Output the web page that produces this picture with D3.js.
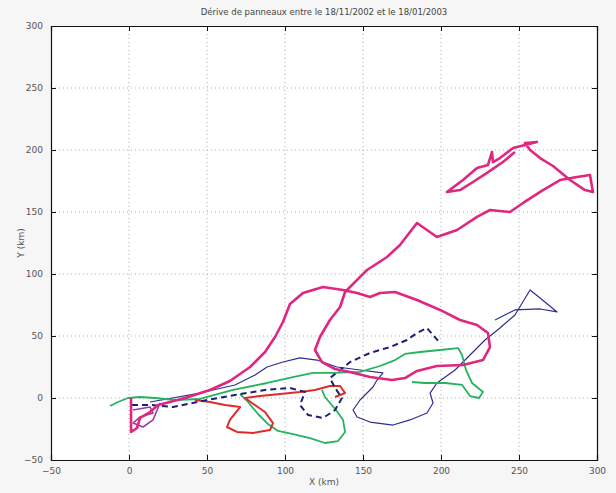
<!DOCTYPE html>
<html>
<head>
<meta charset="utf-8">
<script src="https://cdn.jsdelivr.net/npm/d3@7"></script>
<style>
  body { margin: 0; background: #f6f6f6; }
  text { font-family: "DejaVu Sans", sans-serif; }
</style>
</head>
<body>
<div id="chart"></div>
<script>
// Axis ticks
const xTicks = [-50, 0, 50, 100, 150, 200, 250, 300];
const yTicks = [-50, 0, 50, 100, 150, 200, 250, 300];

// Drift tracks, [x km, y km]
const magentaTrack = [
  [1.3, 0], [1.3, -27.4], [5.1, -24.2], [7.1, -16.1], [13.5, -11.3], [18.6, -5.6],
  [26.3, -3.2], [35.9, 0], [51.9, 6.5], [64.7, 13.7], [77.6, 25], [87.2, 37.1],
  [93.6, 49.2], [98.7, 61.3], [103.2, 75.8], [111.5, 84.7], [124.4, 89.5], [137.2, 87.1],
  [146.2, 84.7], [154.5, 81.5], [160.9, 84.7], [170.5, 85.5], [184.6, 79], [199.4, 71],
  [212.2, 62.9], [223.1, 58.9], [230.1, 52.4], [231.4, 41.1], [226.9, 30.6], [214.1, 26.6],
  [197.4, 25.8], [184.6, 21.8], [176.9, 16.1], [168.6, 14.5], [154.5, 16.9], [141.7, 21],
  [132.1, 23.4], [123.7, 29], [119.2, 38.7], [122.4, 49.2], [128.8, 62.9], [135.3, 73.4],
  [138.5, 85.5], [146.2, 95.2], [152.6, 103.2], [165.4, 113.7], [173.7, 123.4], [184.6, 141.1],
  [197.4, 129.8], [210.3, 135.5], [223.1, 146], [231.4, 151.6], [244.2, 150], [252.6, 157.3],
  [265.4, 167.7], [276.3, 175.8], [287.2, 178.2], [295.5, 179.8], [297.4, 166.1], [292.3, 167.7],
  [282.7, 175.8], [271.8, 187.1], [263.5, 193.5], [257.1, 200], [253.8, 205.6], [261.5, 206.5],
  [246.2, 201.6], [237.8, 193.5], [233.3, 190.3], [232.7, 198.4], [230.1, 187.9], [223.1, 185.5],
  [214.1, 175.8], [203.8, 166.1], [212.2, 167.7], [220.5, 174.2], [229.5, 181.5], [239.7, 190.3],
  [247.4, 198.4]
];

const purpleTrack = [
  [2.6, -9.7], [13.5, -7.3], [15.4, -12.1], [7.1, -15.3], [2.6, -20.2], [9, -23.4],
  [15.4, -17.7], [19.9, -4]
];

const navyDashedTrack = [
  [1.9, -5.6], [13.5, -5.6], [28.2, -7.3], [50, -1.6], [67.9, 2.4], [87.2, 6.5],
  [103.2, 8.1], [112.8, 4.8], [109.6, -5.6], [114.7, -13.7], [124.4, -16.1], [132.1, -9.7],
  [136.5, 0], [132.1, 8.1], [128.8, 16.1], [141.7, 29], [154.5, 36.3], [167.3, 41.1],
  [178.2, 46.8], [184.6, 52.4], [191, 56.5], [194.9, 50.8], [199.4, 44.4]
];

const navyTrack = [
  [13.5, -3.2], [45.5, 4], [67.9, 10.5], [80.8, 18.5], [88.5, 25], [98.7, 29],
  [109.6, 32.3], [120.5, 30.6], [133.3, 25], [148.1, 22.6], [162.8, 20.2], [159, 14.5],
  [156.4, 8.9], [148.1, -1.6], [143.6, -9.7], [146.2, -15.3], [154.5, -19.4], [169.2, -21.8],
  [180.1, -17.7], [191, -12.1], [194.9, -4], [193, 4], [197.4, 12.1], [209, 22.6],
  [218.6, 34.7], [228.2, 46.8], [237.8, 56.5], [247.4, 66.9], [257.1, 87.1], [263.5, 80.6],
  [274.4, 69.4], [263.5, 71.8], [247.4, 71], [234.6, 62.9]
];

const greenTrack = [
  [-12.2, -6.5], [-7.1, -3.2], [-0.6, 0], [7.1, 0.8], [16.7, 0], [29.5, -1.6],
  [45.5, -0.8], [66.7, 6.5], [88.5, 12.1], [105.1, 16.9], [117.9, 20.2], [130.8, 20.2],
  [148.1, 21], [160.9, 25.8], [170.5, 30.6], [176.9, 35.5], [186.5, 37.1], [199.4, 38.7],
  [210.9, 40.3], [213.5, 34.7], [216, 22.6], [219.9, 12.1], [226.9, 4.8], [224.4, 0],
  [218.6, 1.6], [213.5, 10.5], [202.6, 12.1], [189.7, 12.1], [181.4, 12.9]
];

const greenLoop = [
  [123.7, 6.5], [125.6, 0.8], [132.7, -9.7], [137.2, -17.7], [138.5, -27.4], [134, -34.7],
  [125.6, -36.3], [116, -32.3], [104.5, -29], [95.5, -26.6], [89.1, -21], [82.7, -12.9],
  [76.3, -3.2], [71.2, 3.2]
];

const redTrack = [
  [42.3, -1.6], [51.9, -3.2], [61.5, -5.6], [71.2, -7.3], [64.7, -17.7], [62.8, -23.4],
  [69.2, -27.4], [79.5, -28.2], [90.4, -25.8], [92.3, -20.2], [87.2, -11.3], [78.8, -4],
  [74.4, 0], [84, 1.6], [96.8, 3.2], [109.6, 4.8], [119.2, 6.5], [128.8, 9.7],
  [135.3, 9.7], [138.5, 4], [132.1, 0.8]
];

const W = 616, H = 493;
const mLeft = 51, mRight = 597, mTop = 26, mBottom = 460;

const svg = d3.select("#chart")
    .append("svg")
    .attr("width", W)
    .attr("height", H);

svg.append("rect").attr("width", W).attr("height", H).attr("fill", "#f6f6f6");

const x = d3.scaleLinear().domain([-50, 300]).range([mLeft, mRight]);
const y = d3.scaleLinear().domain([-50, 300]).range([mBottom, mTop]);

svg.append("rect")
    .attr("x", mLeft).attr("y", mTop)
    .attr("width", mRight - mLeft).attr("height", mBottom - mTop)
    .attr("fill", "#ffffff");

// dotted grid
const grid = svg.append("g").attr("stroke", "#9a9a9a").attr("stroke-width", 0.8)
    .attr("stroke-dasharray", "1,3");
grid.selectAll(".gx").data(xTicks.slice(1, -1)).join("line")
    .attr("x1", d => x(d)).attr("x2", d => x(d))
    .attr("y1", mTop).attr("y2", mBottom);
grid.selectAll(".gy").data(yTicks.slice(1, -1)).join("line")
    .attr("x1", mLeft).attr("x2", mRight)
    .attr("y1", d => y(d)).attr("y2", d => y(d));

// tracks
const line = d3.line().x(d => x(d[0])).y(d => y(d[1]));
const plot = svg.append("g");

function drawTrack(data, color, width, dash) {
    plot.append("path")
        .datum(data)
        .attr("d", line)
        .attr("fill", "none")
        .attr("stroke", color)
        .attr("stroke-width", width)
        .attr("stroke-linejoin", "round")
        .attr("stroke-dasharray", dash || null);
}

drawTrack(navyTrack, "#2b2f8f", 1.2);
drawTrack(greenLoop, "#25b35f", 1.8);
drawTrack(greenTrack, "#25b35f", 1.8);
drawTrack(redTrack, "#e02a2a", 2);
drawTrack(navyDashedTrack, "#1c1f78", 2, "6,4");
drawTrack(purpleTrack, "#9b3aa3", 1.6);
drawTrack(magentaTrack, "#e0267f", 2.6);

// axes (matlab style, ticks inside, on every side)
const axB = d3.axisBottom(x).tickValues(xTicks).tickSize(-5).tickPadding(8);
const axT = d3.axisTop(x).tickValues(xTicks).tickSize(-5).tickFormat("");
const axL = d3.axisLeft(y).tickValues(yTicks).tickSize(-5).tickPadding(8);
const axR = d3.axisRight(y).tickValues(yTicks).tickSize(-5).tickFormat("");

function styleAxis(g) {
    g.selectAll("path").attr("stroke", "#111").attr("stroke-width", 1.2);
    g.selectAll("line").attr("stroke", "#111");
    g.selectAll("text").attr("fill", "#555").style("font-size", "9px")
        .style("font-family", "DejaVu Sans, sans-serif");
}

svg.append("g").attr("transform", `translate(0,${mBottom})`).call(axB).call(styleAxis);
svg.append("g").attr("transform", `translate(0,${mTop})`).call(axT).call(styleAxis);
svg.append("g").attr("transform", `translate(${mLeft},0)`).call(axL).call(styleAxis);
svg.append("g").attr("transform", `translate(${mRight},0)`).call(axR).call(styleAxis);

// labels
svg.append("text")
    .attr("x", (mLeft + mRight) / 2).attr("y", 15)
    .attr("text-anchor", "middle")
    .attr("fill", "#444").style("font-size", "8.5px")
    .text("Dérive de panneaux entre le 18/11/2002 et le 18/01/2003");

svg.append("text")
    .attr("x", (mLeft + mRight) / 2).attr("y", 485)
    .attr("text-anchor", "middle")
    .attr("fill", "#555").style("font-size", "9px")
    .text("X (km)");

svg.append("text")
    .attr("transform", `translate(24,${(mTop + mBottom) / 2}) rotate(-90)`)
    .attr("text-anchor", "middle")
    .attr("fill", "#555").style("font-size", "9px")
    .text("Y (km)");
</script>
</body>
</html>
